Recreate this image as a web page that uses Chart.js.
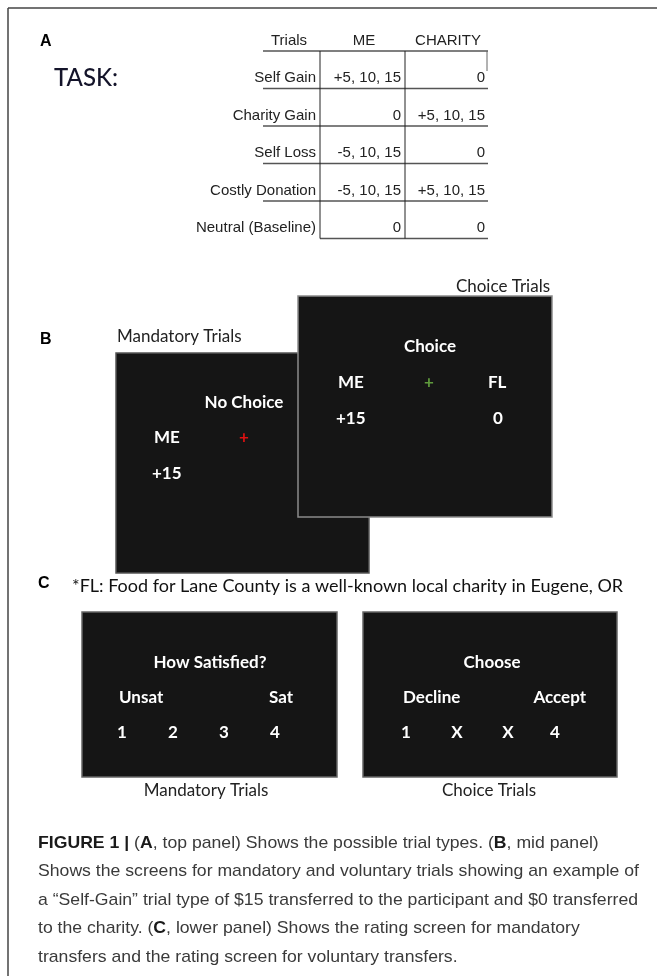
<!DOCTYPE html>
<html>
<head>
<meta charset="utf-8">
<script src="https://cdn.jsdelivr.net/npm/chart.js@4.4.1/dist/chart.umd.min.js"></script>
<style>
  html, body { margin: 0; padding: 0; background: #fff; }
  #figure { display: block; }
</style>
</head>
<body>
<canvas id="figure" width="657" height="976"></canvas>
<script>
// table of trial types (panel A)
const tableHeaders = ['Trials', 'ME', 'CHARITY'];
const trialTypes = ['Self Gain', 'Charity Gain', 'Self Loss', 'Costly Donation', 'Neutral (Baseline)'];
const meValues = ['+5, 10, 15', '0', '-5, 10, 15', '-5, 10, 15', '0'];
const charityValues = ['0', '+5, 10, 15', '0', '+5, 10, 15', '0'];

// screens (panel B)
const mandatoryScreen = ['No Choice', 'ME', '+', '+15'];
const choiceScreen = ['Choice', 'ME', '+', 'FL', '+15', '0'];
const screenTitles = ['Mandatory Trials', 'Choice Trials'];

// rating screens (panel C)
const footNote = '*FL: Food for Lane County is a well-known local charity in Eugene, OR';
const ratingScreen = ['How Satisfied?', 'Unsat', 'Sat'];
const ratingTicks = ['1', '2', '3', '4'];
const choiceRating = ['Choose', 'Decline', 'Accept'];
const choiceTicks = ['1', 'X', 'X', '4'];

const captionLines = [
  [['FIGURE 1 |', true], [' (', false], ['A', true], [', top panel) Shows the possible trial types. (', false], ['B', true], [', mid panel)', false]],
  [['Shows the screens for mandatory and voluntary trials showing an example of', false]],
  [['a \u201cSelf-Gain\u201d trial type of $15 transferred to the participant and $0 transferred', false]],
  [['to the charity. (', false], ['C', true], [', lower panel) Shows the rating screen for mandatory', false]],
  [['transfers and the rating screen for voluntary transfers.', false]]
];

const MYRIAD = 'Lato, "Open Sans", sans-serif';
const ARIAL = '"Liberation Sans", Arial, sans-serif';

const figurePlugin = {
  id: 'figure',
  afterDraw(chart) {
    const ctx = chart.ctx;
    const X = v => chart.scales.x.getPixelForValue(v);
    const Y = v => chart.scales.y.getPixelForValue(v);

    function txt(s, x, y, font, color, align, maxW) {
      ctx.font = font;
      ctx.fillStyle = color;
      ctx.textAlign = align || 'left';
      ctx.textBaseline = 'middle';
      if (maxW) ctx.fillText(s, X(x), Y(y), maxW);
      else ctx.fillText(s, X(x), Y(y));
    }
    function line(x1, y1, x2, y2, color, w) {
      ctx.beginPath();
      ctx.strokeStyle = color;
      ctx.lineWidth = w;
      ctx.moveTo(X(x1), Y(y1));
      ctx.lineTo(X(x2), Y(y2));
      ctx.stroke();
    }
    function screen(x1, y1, x2, y2, border) {
      ctx.fillStyle = '#151515';
      ctx.fillRect(X(x1), Y(y1), X(x2) - X(x1), Y(y2) - Y(y1));
      ctx.strokeStyle = border;
      ctx.lineWidth = 1.5;
      ctx.strokeRect(X(x1), Y(y1), X(x2) - X(x1), Y(y2) - Y(y1));
    }

    ctx.save();

    // outer frame (top and left edges)
    line(8, 8, 657, 8, '#444', 1.5);
    line(8, 8, 8, 976, '#444', 1.5);

    // ---- panel A ----
    txt('A', 40, 42, 'bold 16px ' + ARIAL, '#000');
    txt('TASK:', 54, 78, '500 24px ' + MYRIAD, '#14142a');

    const tf = '15px ' + ARIAL;
    const hx = [289, 364, 448];
    tableHeaders.forEach((h, i) => txt(h, hx[i], 41, tf, '#222', 'center'));
    const top = 51, pitch = 37.5;
    line(263, top, 488, top, '#555', 1.5);
    line(487, top, 487, top + 20, '#666', 1);
    trialTypes.forEach((t, i) => {
      const yc = top + pitch * i + 27;
      const yl = top + pitch * (i + 1);
      txt(t, 316, yc, tf, '#222', 'right');
      txt(meValues[i], 401, yc, tf, '#222', 'right');
      txt(charityValues[i], 485, yc, tf, '#222', 'right');
      line(i === trialTypes.length - 1 ? 320 : 263, yl, 488, yl, '#555', 1.5);
    });
    line(320, top, 320, top + pitch * 5, '#222', 1);
    line(405, top, 405, top + pitch * 5, '#222', 1);

    // ---- panel B ----
    txt('B', 40, 340, 'bold 16px ' + ARIAL, '#000');
    txt(screenTitles[0], 117, 337, '17px ' + MYRIAD, '#222');
    txt(screenTitles[1], 550, 287, '17px ' + MYRIAD, '#222', 'right');

    const wb = 'bold 17px ' + MYRIAD;
    screen(116, 353, 369, 573, '#555');
    txt(mandatoryScreen[0], 244, 403, wb, '#fff', 'center');
    txt(mandatoryScreen[1], 154, 438, wb, '#fff');
    txt(mandatoryScreen[2], 244, 438, wb, '#d11', 'center');
    txt(mandatoryScreen[3], 152, 474, wb, '#fff');

    screen(298, 296, 552, 517, '#8a8a8a');
    txt(choiceScreen[0], 430, 347, wb, '#fff', 'center');
    txt(choiceScreen[1], 338, 383, wb, '#fff');
    txt(choiceScreen[2], 429, 383, wb, '#5f9a3c', 'center');
    txt(choiceScreen[3], 488, 383, wb, '#fff');
    txt(choiceScreen[4], 336, 419, wb, '#fff');
    txt(choiceScreen[5], 498, 419, wb, '#fff', 'center');

    // ---- panel C ----
    txt('C', 38, 584, 'bold 16px ' + ARIAL, '#000');
    txt(footNote, 72, 586, '18px ' + MYRIAD, '#111', 'left', 556);

    screen(82, 612, 337, 777, '#666');
    txt(ratingScreen[0], 210, 663, wb, '#fff', 'center');
    txt(ratingScreen[1], 119, 698, wb, '#fff');
    txt(ratingScreen[2], 293, 698, wb, '#fff', 'right');
    [122, 173, 224, 275].forEach((x, i) => txt(ratingTicks[i], x, 733, wb, '#fff', 'center'));
    txt(screenTitles[0], 206, 791, '17px ' + MYRIAD, '#222', 'center');

    screen(363, 612, 617, 777, '#666');
    txt(choiceRating[0], 492, 663, wb, '#fff', 'center');
    txt(choiceRating[1], 403, 698, wb, '#fff');
    txt(choiceRating[2], 586, 698, wb, '#fff', 'right');
    [406, 457, 508, 555].forEach((x, i) => txt(choiceTicks[i], x, 733, wb, '#fff', 'center'));
    txt(screenTitles[1], 489, 791, '17px ' + MYRIAD, '#222', 'center');

    // ---- caption ----
    const fs = 17;
    const fontOf = b => (b ? 'bold ' : '') + fs + 'px ' + ARIAL;
    const widthOf = segs => segs.reduce((w, s) => { ctx.font = fontOf(s[1]); return w + ctx.measureText(s[0]).width; }, 0);
    const sx = 600 / widthOf(captionLines[2]);
    captionLines.forEach((segs, i) => {
      let x = 0;
      ctx.save();
      ctx.translate(X(38), Y(843 + i * 28.6));
      ctx.scale(sx, 1);
      segs.forEach(s => {
        ctx.font = fontOf(s[1]);
        ctx.fillStyle = s[1] ? '#1a1a1a' : '#3a3a3a';
        ctx.textAlign = 'left';
        ctx.textBaseline = 'middle';
        ctx.fillText(s[0], x, 0);
        x += ctx.measureText(s[0]).width;
      });
      ctx.restore();
    });

    ctx.restore();
  }
};

new Chart(document.getElementById('figure'), {
  type: 'scatter',
  data: { datasets: [{ data: [] }] },
  options: {
    responsive: false,
    animation: false,
    devicePixelRatio: 1,
    layout: { padding: 0 },
    plugins: { legend: { display: false }, tooltip: { enabled: false } },
    scales: {
      x: { type: 'linear', min: 0, max: 657, display: false },
      y: { type: 'linear', min: 0, max: 976, reverse: true, display: false }
    }
  },
  plugins: [figurePlugin]
});
</script>
</body>
</html>
